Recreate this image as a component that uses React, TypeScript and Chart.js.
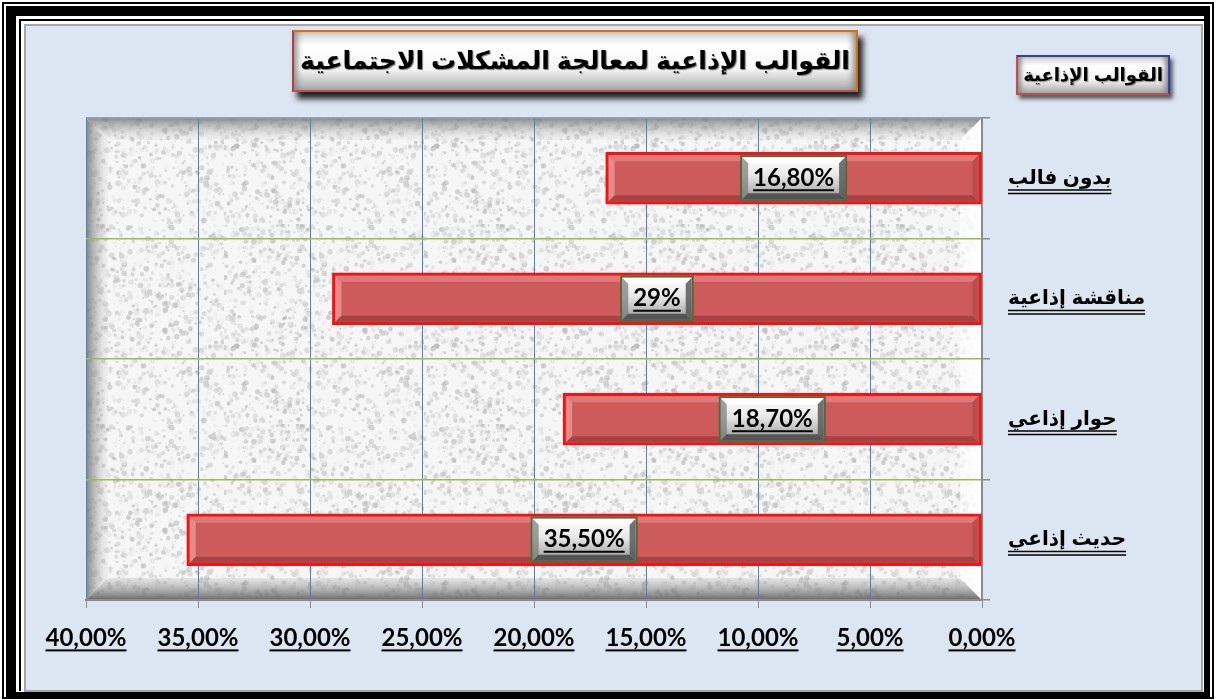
import React, { useEffect, useRef } from 'react';
import { Chart, registerables } from 'chart.js';

Chart.register(...registerables);

// ---- data ----
const categories = ['بدون فالب', 'مناقشة إذاعية', 'حوار إذاعي', 'حديث إذاعي'];
const values = [16.8, 29, 18.7, 35.5];
const valueLabels = ['16,80%', '29%', '18,70%', '35,50%'];
const axisMin = 0;
const axisMax = 40;
const axisStep = 5;
const chartTitle = 'القوالب الإذاعية لمعالجة المشكلات الاجتماعية';
const legendLabel = 'القوالب الإذاعية';

const LATIN = "Lato, 'Open Sans', sans-serif";
const ARABIC = "'Liberation Sans', 'DejaVu Sans', 'Noto Sans', sans-serif";

const formatTick = (v: number) => v.toFixed(2).replace('.', ',') + '%';

function makeGrain(ctx: CanvasRenderingContext2D) {
  const c = document.createElement('canvas');
  c.width = 200;
  c.height = 200;
  const g = c.getContext('2d')!;
  g.fillStyle = '#f6f6f6';
  g.fillRect(0, 0, 200, 200);
  let s = 987654321;
  const next = () => {
    s = (s * 1664525 + 1013904223) % 4294967296;
    return s / 4294967296;
  };
  for (let i = 0; i < 1500; i++) {
    const x = next() * 200;
    const y = next() * 200;
    const r = next() * 2.4 + 0.5;
    const gv = Math.floor(175 + next() * 65);
    g.fillStyle = `rgba(${gv},${gv},${gv},0.55)`;
    g.beginPath();
    g.arc(x, y, r, 0, Math.PI * 2);
    g.fill();
  }
  return ctx.createPattern(c, 'repeat');
}

const backgroundPlugin = {
  id: 'plotBackground',
  beforeDraw(chart: any) {
    const { ctx, chartArea } = chart;
    if (!chartArea) return;
    const { left, top, right, bottom } = chartArea;
    ctx.save();
    const pat = makeGrain(ctx);
    ctx.fillStyle = pat || '#eeeeee';
    ctx.fillRect(left, top, right - left, bottom - top);
    const b = 22;
    let gr = ctx.createLinearGradient(0, top, 0, top + b);
    gr.addColorStop(0, 'rgba(120,120,120,0.85)');
    gr.addColorStop(1, 'rgba(200,200,200,0.1)');
    ctx.fillStyle = gr;
    ctx.beginPath();
    ctx.moveTo(left, top);
    ctx.lineTo(right, top);
    ctx.lineTo(right - b, top + b);
    ctx.lineTo(left + b, top + b);
    ctx.closePath();
    ctx.fill();
    gr = ctx.createLinearGradient(left, 0, left + b, 0);
    gr.addColorStop(0, 'rgba(110,110,110,0.85)');
    gr.addColorStop(1, 'rgba(200,200,200,0.1)');
    ctx.fillStyle = gr;
    ctx.beginPath();
    ctx.moveTo(left, top);
    ctx.lineTo(left + b, top + b);
    ctx.lineTo(left + b, bottom - b);
    ctx.lineTo(left, bottom);
    ctx.closePath();
    ctx.fill();
    gr = ctx.createLinearGradient(0, bottom - b, 0, bottom);
    gr.addColorStop(0, 'rgba(160,160,160,0.2)');
    gr.addColorStop(1, 'rgba(90,90,90,0.9)');
    ctx.fillStyle = gr;
    ctx.beginPath();
    ctx.moveTo(left, bottom);
    ctx.lineTo(left + b, bottom - b);
    ctx.lineTo(right - b, bottom - b);
    ctx.lineTo(right, bottom);
    ctx.closePath();
    ctx.fill();
    gr = ctx.createLinearGradient(right - b, 0, right, 0);
    gr.addColorStop(0, 'rgba(255,255,255,0.6)');
    gr.addColorStop(1, 'rgba(255,255,255,1)');
    ctx.fillStyle = gr;
    ctx.beginPath();
    ctx.moveTo(right, top);
    ctx.lineTo(right, bottom);
    ctx.lineTo(right - b, bottom - b);
    ctx.lineTo(right - b, top + b);
    ctx.closePath();
    ctx.fill();
    ctx.restore();
  },
};

const decorPlugin = {
  id: 'decor',
  afterDatasetsDraw(chart: any) {
    const { ctx } = chart;
    const meta = chart.getDatasetMeta(0);
    ctx.save();
    meta.data.forEach((bar: any) => {
      const { x, y, base, height } = bar.getProps(['x', 'y', 'base', 'height'], true);
      const l = Math.min(x, base) + 3;
      const r = Math.max(x, base) - 3;
      const t = y - height / 2 + 3;
      const btm = y + height / 2 - 3;
      const e = 6;
      ctx.fillStyle = '#e07a7a';
      ctx.beginPath();
      ctx.moveTo(l, t); ctx.lineTo(r, t); ctx.lineTo(r - e, t + e); ctx.lineTo(l + e, t + e); ctx.closePath();
      ctx.fill();
      ctx.fillStyle = '#e88a8a';
      ctx.beginPath();
      ctx.moveTo(l, t); ctx.lineTo(l + e, t + e); ctx.lineTo(l + e, btm - e); ctx.lineTo(l, btm); ctx.closePath();
      ctx.fill();
      ctx.fillStyle = '#a94343';
      ctx.beginPath();
      ctx.moveTo(l, btm); ctx.lineTo(l + e, btm - e); ctx.lineTo(r - e, btm - e); ctx.lineTo(r, btm); ctx.closePath();
      ctx.fill();
      ctx.fillStyle = '#b84f4f';
      ctx.beginPath();
      ctx.moveTo(r, t); ctx.lineTo(r, btm); ctx.lineTo(r - e, btm - e); ctx.lineTo(r - e, t + e); ctx.closePath();
      ctx.fill();
    });
    ctx.font = `bold 24px ${LATIN}`;
    meta.data.forEach((bar: any, i: number) => {
      const { x, y, base } = bar.getProps(['x', 'y', 'base'], true);
      const cx = (x + base) / 2;
      const text = valueLabels[i];
      const tw = ctx.measureText(text).width;
      const w = tw + 26;
      const h = 46;
      const bx = cx - w / 2;
      const by = y - h / 2;
      const e = 6;
      ctx.fillStyle = '#4f6a3f';
      ctx.fillRect(bx, by, w, h);
      const l = bx + 2, r = bx + w - 2, t = by + 2, b = by + h - 2;
      const face = ctx.createLinearGradient(0, t, 0, b);
      face.addColorStop(0, '#ffffff');
      face.addColorStop(0.45, '#e6e6e6');
      face.addColorStop(1, '#9a9a9a');
      ctx.fillStyle = face;
      ctx.fillRect(l, t, r - l, b - t);
      ctx.fillStyle = 'rgba(255,255,255,0.9)';
      ctx.beginPath(); ctx.moveTo(l, t); ctx.lineTo(r, t); ctx.lineTo(r - e, t + e); ctx.lineTo(l + e, t + e); ctx.closePath(); ctx.fill();
      ctx.fillStyle = 'rgba(120,120,120,0.7)';
      ctx.beginPath(); ctx.moveTo(l, t); ctx.lineTo(l + e, t + e); ctx.lineTo(l + e, b - e); ctx.lineTo(l, b); ctx.closePath(); ctx.fill();
      ctx.fillStyle = 'rgba(80,80,80,0.8)';
      ctx.beginPath(); ctx.moveTo(r, t); ctx.lineTo(r, b); ctx.lineTo(r - e, b - e); ctx.lineTo(r - e, t + e); ctx.closePath(); ctx.fill();
      ctx.fillStyle = 'rgba(70,70,70,0.85)';
      ctx.beginPath(); ctx.moveTo(l, b); ctx.lineTo(l + e, b - e); ctx.lineTo(r - e, b - e); ctx.lineTo(r, b); ctx.closePath(); ctx.fill();
      ctx.fillStyle = '#000000';
      ctx.textAlign = 'center';
      ctx.textBaseline = 'middle';
      ctx.fillText(text, cx, y);
      ctx.fillRect(cx - tw / 2, y + 11, tw, 2);
    });
    ctx.restore();
  },
  afterDraw(chart: any) {
    const { ctx } = chart;
    const xs = chart.scales.x;
    const ys = chart.scales.y;
    ctx.save();
    ctx.fillStyle = '#000000';
    ctx.font = `bold 24px ${LATIN}`;
    xs.ticks.forEach((t: any, i: number) => {
      const px = xs.getPixelForTick(i);
      const w = ctx.measureText(formatTick(t.value)).width;
      ctx.fillRect(px - w / 2, xs.top + 8 + 16 + 14.4 + 11, w, 2);
    });
    ctx.font = `bold 20px ${ARABIC}`;
    ys.ticks.forEach((t: any, i: number) => {
      const py = ys.getPixelForTick(i);
      const lx = ys.left + 8 + 18;
      const w = ctx.measureText(categories[i]).width;
      ctx.fillRect(lx, py + 11, w, 1.5);
      ctx.fillRect(lx, py + 14.5, w, 1.5);
    });
    ctx.restore();
  },
};

export default function App() {
  const canvasRef = useRef<HTMLCanvasElement | null>(null);

  useEffect(() => {
    const canvas = canvasRef.current;
    if (!canvas) return;
    const chart = new Chart(canvas, {
      type: 'bar',
      data: {
        labels: categories,
        datasets: [
          {
            label: legendLabel,
            data: values,
            backgroundColor: '#cd5b5b',
            borderColor: '#f21414',
            borderWidth: 3,
            borderSkipped: false,
            barThickness: 52,
          },
        ],
      },
      options: {
        indexAxis: 'y',
        responsive: false,
        animation: false,
        devicePixelRatio: 1,
        layout: { padding: { left: 62, top: 94, right: 0, bottom: 0 } },
        plugins: {
          legend: { display: false },
          title: { display: false },
          tooltip: { enabled: false },
        },
        scales: {
          x: {
            type: 'linear',
            reverse: true,
            min: axisMin,
            max: axisMax,
            ticks: {
              stepSize: axisStep,
              callback: (v: any) => formatTick(Number(v)),
              color: '#000000',
              font: { family: LATIN, size: 24, weight: 'bold' },
              padding: 16,
              maxRotation: 0,
              autoSkip: false,
            },
            grid: { color: '#4f81bd', lineWidth: 1, tickLength: 8, tickColor: '#8c8c8c' },
            border: { display: true, color: '#8c8c8c', width: 2 },
            afterFit: (s: any) => { s.height = 92; },
          },
          y: {
            position: 'right',
            ticks: {
              color: '#000000',
              font: { family: ARABIC, size: 20, weight: 'bold' },
              padding: 18,
            },
            grid: {
              color: (c: any) => (c.index === 0 ? '#8ea6c6' : '#9bbb59'),
              lineWidth: 1.5,
              tickLength: 8,
              tickColor: '#8c8c8c',
              offset: true,
            },
            border: { display: true, color: '#8c8c8c', width: 2 },
            afterFit: (s: any) => { s.width = 221; },
          },
        },
      } as any,
      plugins: [backgroundPlugin, decorPlugin],
    });
    return () => chart.destroy();
  }, []);

  return (
    <div style={{ position: 'absolute', left: 0, top: 0, width: 1216, height: 700, background: '#ffffff', overflow: 'hidden' }}>
      <div style={{ position: 'absolute', left: 2, top: 2, width: 1212, height: 697, border: '2px solid #000', boxSizing: 'border-box' }} />
      <div style={{ position: 'absolute', left: 6, top: 6, width: 1204, height: 691, borderStyle: 'solid', borderColor: '#000', borderTopWidth: 10, borderLeftWidth: 10, borderRightWidth: 6, borderBottomWidth: 5, boxSizing: 'border-box' }} />
      <div style={{ position: 'absolute', left: 19, top: 19, width: 1186, height: 672, borderTop: '2px solid #000', borderLeft: '2px solid #000', boxSizing: 'border-box' }} />
      <div style={{ position: 'absolute', left: 24, top: 24, width: 1179, height: 668, background: '#dce6f2', border: '2px solid #a6a6a6', boxSizing: 'border-box' }} />
      <canvas ref={canvasRef} width={1179} height={668} style={{ position: 'absolute', left: 24, top: 24, width: 1179, height: 668 }} />
      <div
        style={{
          position: 'absolute', left: 292, top: 30, width: 566, height: 62, boxSizing: 'border-box',
          borderStyle: 'solid', borderWidth: 2,
          borderTopColor: '#e36c09', borderRightColor: '#e36c09', borderBottomColor: '#c0504d', borderLeftColor: '#b0403d',
          background: 'linear-gradient(to bottom, #cfcfcf 0%, #ffffff 22%, #f4f4f4 65%, #a8a8a8 100%)',
          boxShadow: '5px 7px 6px rgba(0,0,0,0.85), inset 7px 0 6px -4px #8a8a8a, inset -7px 0 6px -4px #8a8a8a',
          direction: 'rtl', textAlign: 'center', fontFamily: ARABIC, fontWeight: 'bold', fontSize: 25,
          lineHeight: '56px', color: '#000', textShadow: '1px 1px 1px #777', whiteSpace: 'nowrap',
        }}
      >
        {chartTitle}
      </div>
      <div
        style={{
          position: 'absolute', left: 1016, top: 55, width: 154, height: 40, boxSizing: 'border-box',
          borderStyle: 'solid', borderWidth: 2,
          borderTopColor: '#3c3ca8', borderRightColor: '#3c3ca8', borderBottomColor: '#c0504d', borderLeftColor: '#c0504d',
          background: 'linear-gradient(to bottom, #cfcfcf 0%, #ffffff 25%, #f2f2f2 65%, #a8a8a8 100%)',
          boxShadow: '3px 4px 4px rgba(0,0,0,0.6), inset 6px 0 5px -3px #8a8a8a, inset -6px 0 5px -3px #8a8a8a',
          direction: 'rtl', textAlign: 'center', fontFamily: ARABIC, fontWeight: 'bold', fontSize: 18,
          lineHeight: '36px', color: '#000', textShadow: '1px 1px 1px #888', whiteSpace: 'nowrap',
        }}
      >
        {legendLabel}
      </div>
    </div>
  );
}
